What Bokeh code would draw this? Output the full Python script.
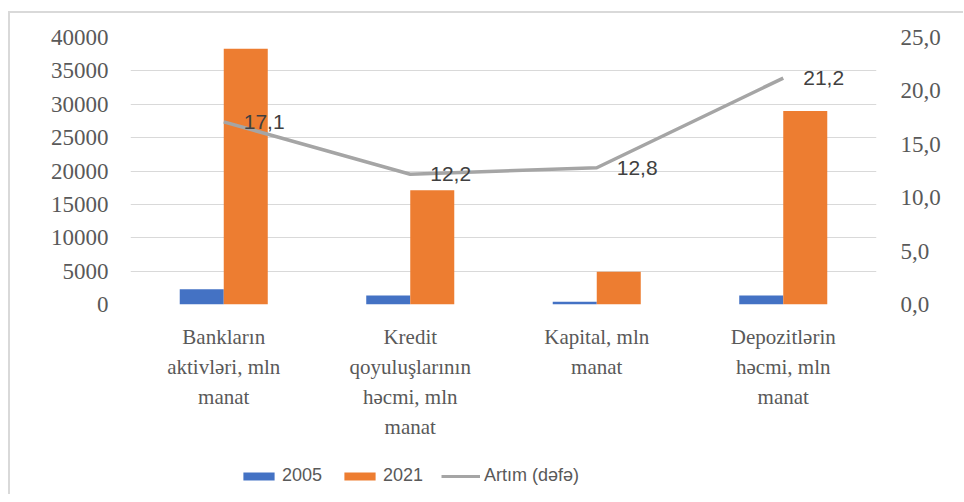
from bokeh.plotting import figure
from bokeh.layouts import column
from bokeh.models import (FactorRange, Range1d, LinearAxis, Legend, LegendItem,
                          ColumnDataSource, FixedTicker, CustomJSTickFormatter,
                          NumeralTickFormatter)
from bokeh.transform import dodge
from bokeh.core.properties import value
from bokeh.embed import file_html
from bokeh.resources import INLINE

# ---- data ----
categories = [
    "Bankların\naktivləri, mln\nmanat",
    "Kredit\nqoyuluşlarının\nhəcmi, mln\nmanat",
    "Kapital, mln\nmanat",
    "Depozitlərin\nhəcmi, mln\nmanat",
]
values_2005 = [2300, 1350, 400, 1350]
values_2021 = [38300, 17100, 4900, 29000]
growth = [17.1, 12.2, 12.8, 21.2]
growth_labels = ["17,1", "12,2", "12,8", "21,2"]
left_ticks = [0, 5000, 10000, 15000, 20000, 25000, 30000, 35000, 40000]
right_ticks = [0, 5, 10, 15, 20, 25]
series_names = ["2005", "2021", "Artım (dəfə)"]
colors = ["#4472c4", "#ed7d31", "#a5a5a5"]

src = ColumnDataSource(dict(cat=categories, v05=values_2005, v21=values_2021,
                            g=growth, gl=growth_labels))

serif = "'Liberation Serif', 'Times New Roman', serif"
sans = "'Liberation Sans', Arial, sans-serif"
axis_col = "#595959"

W, H = 953, 445
p = figure(x_range=FactorRange(*categories, range_padding=0),
           y_range=Range1d(0, 40000),
           width=W, height=H, output_backend="svg", toolbar_location=None,
           min_border_left=120, min_border_top=24, min_border_right=87,
           min_border_bottom=154)
p.outline_line_color = None
p.background_fill_color = "white"
p.border_fill_color = "white"
p.extra_y_ranges = {"right": Range1d(0, 25)}

# left axis
ya = p.yaxis[0]
ya.ticker = FixedTicker(ticks=left_ticks)
ya.formatter = NumeralTickFormatter(format="0")
ya.axis_line_color = None
ya.major_tick_line_color = None
ya.minor_tick_line_color = None
ya.major_tick_out = 0
ya.major_tick_in = 0
ya.major_label_text_font = serif
ya.major_label_text_font_size = "23px"
ya.major_label_text_color = axis_col
ya.major_label_standoff = 22

# right axis
ra = LinearAxis(y_range_name="right", ticker=FixedTicker(ticks=right_ticks),
                formatter=CustomJSTickFormatter(code="return tick.toFixed(1).replace('.', ',');"))
ra.axis_line_color = None
ra.major_tick_line_color = None
ra.minor_tick_line_color = None
ra.major_tick_out = 0
ra.major_tick_in = 0
ra.major_label_text_font = serif
ra.major_label_text_font_size = "23px"
ra.major_label_text_color = axis_col
ra.major_label_standoff = 24
p.add_layout(ra, "right")

# x axis
xa = p.xaxis[0]
xa.axis_line_color = None
xa.major_tick_line_color = None
xa.major_tick_out = 0
xa.major_tick_in = 0
xa.major_label_text_font = serif
xa.major_label_text_font_size = "21px"
xa.major_label_text_color = axis_col
xa.major_label_standoff = 20
xa.major_label_text_line_height = 1.25

p.xgrid.grid_line_color = None
p.ygrid.grid_line_color = "#d9d9d9"
p.ygrid.grid_line_width = 1
p.ygrid.ticker = FixedTicker(ticks=left_ticks)

p.vbar(x=dodge("cat", -0.118, range=p.x_range), top="v05", width=0.236,
       source=src, fill_color=colors[0], line_color=None)
p.vbar(x=dodge("cat", 0.118, range=p.x_range), top="v21", width=0.236,
       source=src, fill_color=colors[1], line_color=None)
p.line(x="cat", y="g", y_range_name="right", source=src,
       line_color=colors[2], line_width=3.5)
p.text(x="cat", y="g", text="gl", y_range_name="right", source=src,
       x_offset=20, text_baseline="middle", text_align="left",
       text_font=value(sans), text_font_size="21px", text_color="#404040")

# ---- legend strip (separate figure so the legend is not clipped) ----
lf = figure(width=W, height=36, output_backend="svg", toolbar_location=None,
            x_range=Range1d(0, 1), y_range=Range1d(0, 1),
            min_border=0, min_border_left=0, min_border_right=0,
            min_border_top=0, min_border_bottom=0)
lf.axis.visible = False
lf.grid.visible = False
lf.outline_line_color = None
# off-range placeholder glyphs, only used to draw the legend keys
dummy = ColumnDataSource(dict(x=[-10, -11], y=[-10, -11], top=[-10, -11]))
l05 = lf.vbar(x="x", top="top", width=0.1, source=dummy, fill_color=colors[0], line_color=None)
l21 = lf.vbar(x="x", top="top", width=0.1, source=dummy, fill_color=colors[1], line_color=None)
lln = lf.line(x="x", y="y", source=dummy, line_color=colors[2], line_width=3)

legend = Legend(items=[LegendItem(label=series_names[0], renderers=[l05]),
                       LegendItem(label=series_names[1], renderers=[l21]),
                       LegendItem(label=series_names[2], renderers=[lln])],
                orientation="horizontal", location=(109, 8))
legend.padding = 0
legend.margin = 0
legend.spacing = 18
legend.glyph_width = 39
legend.glyph_height = 10
legend.label_standoff = 4
legend.border_line_color = None
legend.background_fill_alpha = 0
legend.label_text_font = sans
legend.label_text_font_size = "18px"
legend.label_text_color = axis_col
lf.add_layout(legend, "center")

layout = column(p, lf, spacing=0)
layout.margin = (11, 0, 0, 8)
layout.styles = {"border-left": "2px solid #d9d9d9", "border-top": "2px solid #d9d9d9"}

open("out.html", "w").write(file_html(layout, INLINE))
